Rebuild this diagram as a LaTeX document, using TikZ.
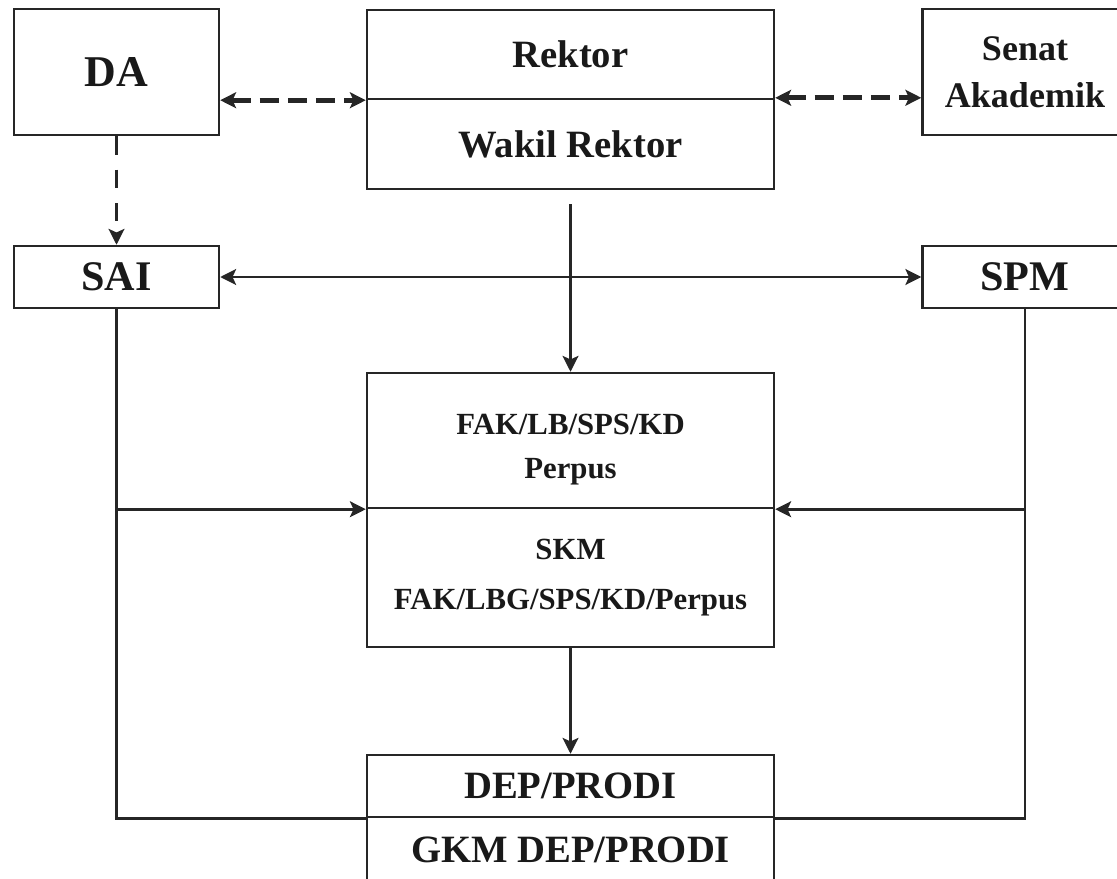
\documentclass[tikz,border=0pt]{standalone}
\usepackage{fontspec}
\setmainfont{Liberation Serif}
\usetikzlibrary{arrows.meta}
\usetikzlibrary{positioning}

\newcommand{\fs}[2]{\fontsize{#1}{#2}\selectfont\bfseries}

\begin{document}
\begin{tikzpicture}[
	>={Stealth[length=9pt,width=9pt,inset=2pt]},
	box/.style={draw=black!85, line width=1.4pt, minimum width=8.14cm, inner sep=0pt, align=center, text=black!90},
	sidebox/.style={box, minimum width=4.1cm},
	link/.style={draw=black!85, line width=1.6pt},
	dashlink/.style={link, dash pattern=on 10.5pt off 8.5pt},
	boldlink/.style={link, line width=2.6pt, dash pattern=on 11pt off 5pt}
]
\useasboundingbox (0,0) rectangle (22.34,-17.58);
\clip (0,0) rectangle (22.34,-17.58);

% top row
\node[sidebox, minimum height=2.52cm, font=\fs{25}{30}] (da) at (2.33,-1.44) {DA};
\node[box, minimum height=1.78cm, font=\fs{22}{26}] (rektor) at (11.41,-1.09) {Rektor};
\node[box, minimum height=1.80cm, font=\fs{22}{26}] (wakil) at (11.41,-2.88) {Wakil Rektor};
\node[sidebox, minimum height=2.52cm, font=\fs{20.5}{27}] (senat) at (20.5,-1.44) {Senat\\Akademik};

% second row
\node[sidebox, minimum height=1.24cm, font=\fs{24}{28}] (sai) at (2.33,-5.54) {SAI};
\node[sidebox, minimum height=1.24cm, font=\fs{24}{28}] (spm) at (20.5,-5.54) {SPM};

% middle
\node[box, minimum height=2.70cm, font=\fs{17.5}{25}] (fak) at (11.41,-8.81) {\rule{0pt}{22pt}FAK/LB/SPS/KD\\Perpus};
\node[box, minimum height=2.78cm, font=\fs{17.5}{24}] (skm) at (11.41,-11.55) {SKM\\[4pt]FAK/LBG/SPS/KD/Perpus};

% bottom
\node[box, minimum height=1.24cm, font=\fs{22}{26}] (dep) at (11.41,-15.72) {DEP/PRODI};
\node[box, minimum height=1.32cm, font=\fs{22}{26}] (gkm) at (11.41,-17.0) {GKM DEP/PRODI};

\draw[boldlink, <->] (da.east |- rektor.south) -- (rektor.south west);
\draw[boldlink, <->] (wakil.north east) -- (senat.west |- wakil.north);
\draw[dashlink, ->] (da) -- (sai);

\draw[link, <->] (sai) -- (spm);
\draw[link, ->] ([yshift=-0.28cm]wakil.south) -- (fak);
\draw[link, ->] (skm) -- (dep);

\draw[link] (sai) |- (dep.south west);
\draw[link, ->] (sai.south |- fak.south) -- (fak.south west);
\draw[link] (spm) |- (dep.south east);
\draw[link, ->] (spm.south |- fak.south) -- (fak.south east);
\end{tikzpicture}
\end{document}
